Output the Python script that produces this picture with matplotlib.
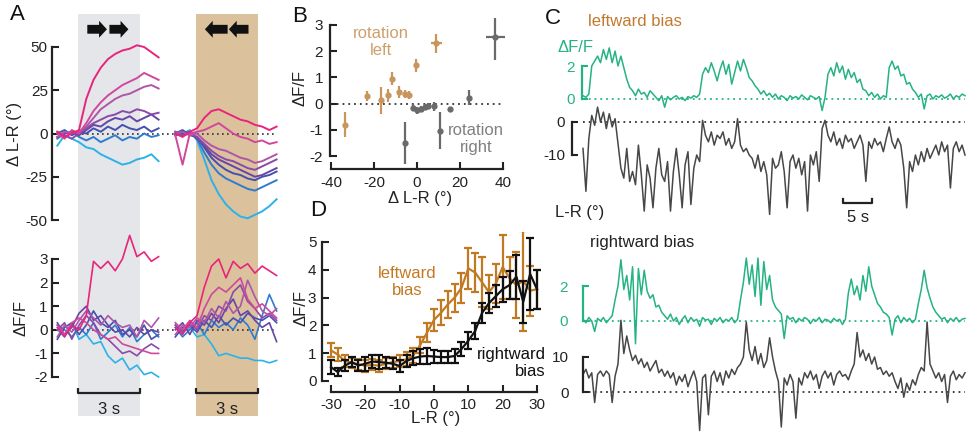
import numpy as np
import matplotlib
matplotlib.use("Agg")
import matplotlib.pyplot as plt
from matplotlib.patches import FancyArrow

plt.rcParams['font.family'] = ['Liberation Sans', 'DejaVu Sans']
plt.rcParams['axes.unicode_minus'] = False

# ---------------- DATA ----------------
# Panel A: time (s) of samples, 8 traces per condition (pink -> cyan)
tA = [-1.0, -0.65, -0.3, 0.05, 0.4, 0.75, 1.1, 1.45, 1.8, 2.15, 2.5, 2.85, 3.2, 3.55, 3.9]
a_colors = ['#e8247c', '#d0489c', '#b055a8', '#8a4aa8', '#6446a8', '#4550b0', '#2f7ccc', '#2cb2e8']
lr_right_rot = [
    [1, -2, 0, 2, 20, 31, 38, 43, 46, 48, 49, 51, 50, 47, 44],
    [0, -3, 2, 0, 6, 13, 18, 22, 25, 28, 30, 32, 35, 33, 31],
    [-2, 1, 0, 1, 4, 9, 14, 17, 20, 22, 23, 25, 27, 28, 26],
    [1, -1, -3, 0, 3, 6, 8, 10, 11, 13, 12, 14, 13, 11, 12],
    [-2, 0, 1, -1, 2, 5, 4, 7, 9, 8, 10, 7, 9, 11, 8],
    [0, 2, -1, 1, 0, 3, 1, 4, 2, 5, 3, 2, 4, 1, 3],
    [-3, 0, 1, -2, -4, -2, -5, -3, -1, -4, -2, -3, 0, -2, -1],
    [-7, -1, -3, -5, -8, -9, -12, -14, -16, -18, -17, -15, -14, -12, -16],
]
lr_left_rot = [
    [0, -2, 1, 3, 9, 13, 14, 12, 10, 8, 7, 5, 4, 2, 4],
    [-1, -18, 0, 1, 2, 4, 6, 3, 0, -2, -3, -5, -4, -6, -5],
    [0, 1, -1, 0, -4, -7, -9, -10, -12, -14, -15, -17, -16, -14, -12],
    [1, -1, 0, -2, -6, -10, -13, -15, -16, -18, -20, -21, -19, -17, -15],
    [-1, 0, 1, -3, -7, -12, -15, -17, -19, -21, -23, -25, -24, -22, -20],
    [0, 2, -1, -2, -8, -14, -18, -21, -23, -24, -26, -27, -25, -24, -22],
    [1, -1, 0, -3, -11, -18, -23, -26, -28, -30, -32, -33, -31, -29, -27],
    [-1, 0, 2, -4, -15, -27, -35, -41, -45, -48, -49, -47, -45, -42, -38],
]
df_right_rot = [
    [0.1, -0.3, 0.2, 0.0, 0.6, 2.9, 2.6, 2.9, 2.5, 3.0, 4.0, 3.1, 3.3, 2.9, 3.1],
    [0.2, -0.2, 0.3, 0.5, 0.3, 0.0, -0.2, -0.4, -0.3, -0.6, -0.7, -0.8, -0.9, -1.0, -1.0],
    [-0.3, 0.2, -0.1, 0.4, 0.8, 0.5, 0.2, 0.6, 0.3, 0.1, 0.2, -0.3, 0.4, 0.1, 0.5],
    [0.0, 0.3, -0.4, 0.2, 0.6, 0.3, -0.2, -0.4, -0.7, -1.0, -0.9, -1.1, -0.8, -0.6, -0.8],
    [0.3, -0.2, 0.1, 0.7, 1.0, 0.4, 0.6, 0.2, -0.1, 0.0, -0.3, 0.1, -0.2, 0.0, -0.1],
    [-0.4, 0.1, 0.3, -0.2, 0.2, 0.8, 0.3, 0.1, 0.4, -0.2, 0.0, -0.3, 0.2, -0.4, -0.2],
    [0.2, 0.0, -0.3, 0.1, -0.2, 0.3, -0.4, -0.1, 0.2, -0.3, 0.1, -0.5, -0.2, 0.0, -0.3],
    [0.0, -0.3, 0.3, -0.4, -0.2, -0.6, -0.5, -1.1, -1.4, -1.2, -1.7, -1.5, -1.9, -1.8, -2.0],
]
df_left_rot = [
    [0.1, -0.2, 0.3, 0.6, 1.8, 2.7, 3.0, 2.2, 2.9, 2.6, 2.8, 2.4, 2.7, 2.5, 2.3],
    [0.3, 0.0, 0.4, 0.1, 0.9, 1.5, 1.8, 1.6, 1.9, 2.2, 1.3, 0.9, 1.1, 0.8, 0.5],
    [-0.2, 0.2, 0.1, 0.5, 0.3, 0.9, 0.5, 1.2, 0.7, 1.0, 2.1, 1.4, 0.8, 0.6, 0.9],
    [0.2, -0.1, 0.3, 0.0, 0.6, 0.4, 1.0, 0.8, 1.6, 1.9, 1.2, 0.9, 0.5, 0.7, 0.4],
    [0.0, 0.3, -0.2, 0.4, 0.2, 0.7, 0.3, 0.9, 1.3, 0.6, 0.8, 0.4, 0.1, 0.3, -0.5],
    [-0.3, 0.1, 0.2, -0.1, 0.4, 0.1, 0.6, 0.2, 0.5, 0.3, 0.7, 0.5, 0.4, 0.6, 0.3],
    [0.1, -0.3, 0.0, 0.3, -0.2, 0.4, 0.1, 0.3, 0.0, 0.5, 0.2, -0.4, 0.6, 1.5, 0.8],
    [0.2, -0.1, 0.1, -0.3, -0.2, -0.6, -1.1, -1.0, -1.1, -1.2, -1.2, -1.3, -1.3, -1.4, -1.3],
]

# Panel B
b_left_x = [-33.3, -23.4, -16.7, -13.3, -11.6, -8.3, -5.5, -3.7, -0.4, 8.9]
b_left_y = [-0.8, 0.3, 0.12, 0.32, 0.95, 0.45, 0.36, 0.32, 1.47, 2.3]
b_left_yerr = [0.48, 0.2, 0.5, 0.25, 0.25, 0.22, 0.15, 0.15, 0.25, 0.35]
b_left_xerr = [0.8, 0.7, 0.8, 0.7, 0.6, 0.6, 0.6, 0.6, 0.7, 2.5]
b_right_x = [-5.5, -1.8, 0.2, 2.0, 3.7, 5.2, 7.9, 10.6, 15.2, 24.0, 36.5]
b_right_y = [-1.5, -0.15, -0.26, -0.2, -0.13, -0.1, -0.1, -1.03, -0.19, 0.23, 2.55]
b_right_yerr = [0.8, 0.12, 0.12, 0.1, 0.1, 0.12, 0.18, 0.7, 0.06, 0.28, 0.9]
b_right_xerr = [0.8, 0.5, 0.5, 0.5, 0.5, 0.5, 0.6, 0.7, 0.6, 0.9, 4.2]

# Panel D
d_x = [-30, -28, -26, -24, -22, -20, -18, -16, -14, -12, -10, -8, -6, -4, -2, 0,
       2, 4, 6, 8, 10, 12, 14, 16, 18, 20, 22, 24, 26, 28, 30]
d_left = [1.1, 0.95, 0.72, 0.66, 0.6, 0.55, 0.58, 0.55, 0.62, 0.68, 0.72, 0.78, 0.92, 1.3, 1.75, 2.2,
          2.45, 2.75, 3.0, 3.35, 4.05, 3.9, 3.55, 3.2, 3.5, 4.1, 3.7, 3.45, 3.6, 3.25, 3.3]
d_left_err = [0.25, 0.22, 0.2, 0.18, 0.2, 0.22, 0.2, 0.22, 0.2, 0.2, 0.22, 0.25, 0.28, 0.3, 0.35, 0.4,
              0.45, 0.5, 0.5, 0.55, 0.75, 0.7, 0.9, 0.6, 0.7, 1.15, 0.75, 1.2, 1.8, 0.9, 0.7]
d_right = [0.5, 0.32, 0.55, 0.68, 0.56, 0.62, 0.7, 0.68, 0.66, 0.62, 0.54, 0.72, 0.82, 0.88, 0.9, 0.88,
           0.86, 0.86, 0.9, 1.15, 1.45, 1.8, 2.45, 2.8, 3.05, 3.3, 3.45, 3.75, 2.85, 3.85, 3.3]
d_right_err = [0.25, 0.15, 0.2, 0.18, 0.2, 0.25, 0.25, 0.25, 0.2, 0.2, 0.22, 0.22, 0.25, 0.28, 0.3, 0.25,
               0.22, 0.22, 0.25, 0.25, 0.3, 0.3, 0.35, 0.35, 0.4, 0.45, 0.5, 0.8, 0.75, 1.3, 0.7]

# Panel C: sample period 0.5 s
c_dt = 0.5
c_left_df = [0.2, 0.1, 0.3, 2.0,
             2.3, 2.6, 2.2, 3.0, 2.4, 3.1, 2.2, 2.9, 2.0, 2.6,
             1.9, 1.2, 0.7,
             0.5, 0.2, 0.6, 0.3, 0.4, 0.1, 0.5, 0.3,
             0.1, -0.1, 0.2, -0.5, 0.15, -0.05, 0.1, 0.2, 0.0, 0.1, -0.1, 0.15, 0.05, 0.2, 0.1, 0.3,
             1.5, 1.9, 1.6, 2.2, 1.7, 1.1, 1.8, 2.3, 1.5, 2.1, 0.9, 1.6, 2.3, 1.7, 2.4, 1.9, 1.3, 1.1, 0.8,
             0.6, 0.3, 0.5, 0.2, 0.35, 0.1, 0.3, 0.0, 0.2, 0.1, -0.1, 0.2, 0.05, 0.15, 0.0, 0.25, 0.1, -0.05,
             0.2, 0.1, 0.0, 0.15, -0.7, 0.1,
             1.5, 1.9, 1.4, 2.2, 1.6, 2.0, 1.2, 1.8, 1.3, 1.6, 1.0, 1.2, 0.6,
             0.5, 0.2, 0.4, 0.1, 0.3, 0.0, 0.2, 0.1,
             1.9, 2.3, 1.8, 2.0, 1.4, 1.5,
             0.9, 1.0, 0.6,
             0.4, 0.1, 0.3, -0.6, 0.2, 0.3, 0.0, 0.2, 0.1, 0.25, 0.05, 0.15, 0.3, 0.0, 0.2, 0.1, 0.3, 0.2]
c_left_lr = [-8, -21, -5,
             2, -1, 4.5, 0, 3, -2, 2.5, -1.5, 1,
             -6.5,
             -14, -17, -8, -18, -15, -19, -7, -16, -27, -13, -17, -26, -14, -8, -16, -18, -12, -27,
             -15, -8, -16, -26, -13, -9, -25, -14, -10, -12,
             0.5,
             -4, -6, -3, -7, -4, -5, -3, -7,
             -5, -8, -6, 1, -7, -9, -8, -10,
             -11, -14, -10, -15, -12, -16, -28, -11, -14, -13, -9, -15, -26, -12, -10, -14, -11, -16,
             -12, -27, -10, -13, -9, -18,
             -2, 0.5,
             -4, -6, -3, -7, -5, -8, -4, -6, -5, -8, -6, -4, -7, -18, -6, -8, -5, -7, -6, -9, -5, -1.5,
             -6, -8, -5, -7,
             -14, -26,
             -12, -15, -10, -13, -9, -12, -8, -11, -9, -7, -10, -6, -9, -7, -20, -8, -6, -9, -7, -10]
c_right_df = [0.1, -0.1, 0.2, 0.0, -0.6, 0.15, 0.0, 0.2, -0.1, 0.1, 0.3,
              1.2, 2.0,
              3.5, 1.8, 2.6, 1.2, 3.1, -1.3, 3.0, 1.5, 2.9, 1.7,
              1.3, 1.5, 0.8, 0.9, 0.5,
              0.3, 0.1, 0.4, 0.0, 0.2, -0.2, 0.1, 0.3, -0.1, 0.2, 0.0, 0.1, -0.3, 0.2, 0.05, 0.1, -0.2,
              0.15, 0.0, 0.2, -0.1, 0.1, 0.0, 0.2, -0.1, 0.1,
              1.2, 2.2,
              3.6, 2.1, 3.2, 1.4, 3.6, 0.9, 3.4, 1.8, 2.6,
              1.2, 0.8, 0.6, 0.4, -1.0,
              0.3, 0.1, 0.2, -0.1, 0.15, 0.0, 0.2, 0.1, -0.15, 0.1, 0.0, 0.2, -0.1, 0.1, 0.05, -0.1,
              0.15, 0.0, 0.1, -0.2, 0.1,
              1.6, 2.4, 1.5, 2.0, 1.2, 2.6, 1.7, 3.1, 2.0, 1.5,
              1.0, 0.8, 0.5, 0.4, 0.2, -0.8,
              0.1, 0.3, -0.1, 0.2, 0.0, 0.15, -0.1, 0.1,
              1.0, 1.8, 2.9, 1.9, 1.3,
              0.8, 0.5, 0.3, 0.1, 0.2, -0.1, 0.15, 0.0, 0.2, -0.05, 0.1, 0.15]
c_right_lr = [5, 6.5, 4, 5.5, -3, 5, 6, 4.5, 6, 5, -3, 4.5,
              8, 20.5, 11, 16,
              12, 9, 10.5, 8, 9.5, 7, 8.5, 6, 7.5, 9, 5.5, 6.5, 4.5, 6,
              4, 5.5, 2, 4.5, 3, 5, 1.5, 4, 6, 3, -11,
              4, 5, -6.5, 4.5, 6, 3, 5.5, 2, 6, 4, 6.5, 5, 7,
              8, 10, 20, 12, 9, 13, 8, 11, 7, 9, 15.5, 10,
              6, 3,
              -10, 4, 2, 5, 3, -7.5, 4, 2,
              5.5, 4, 6, 3.5, 5, 1, 4.5, 6, 4, 5.5, 2, 5, 6, 4.5, 5, 3.5, 6,
              8, 17, 10, 12, 9, 11, 8, 10,
              6.5, 7, 5, 6, 4.5, 5.5,
              3, 1, 4, -1.5, 2.5, 0.5, 3.5, 2,
              5, 7, 6, 20, 8, 6,
              4, 5.5, 3, 5, -3, 4.5, 6, 3.5, 5, 4, 5.5]

# ---------------- LAYOUT HELPERS ----------------
W, H = 966, 437
fig = plt.figure(figsize=(W / 100, H / 100), dpi=100)


def lin(p, a, b):
    return a[1] + (p - a[0]) * (b[1] - a[1]) / (b[0] - a[0])


def make(x0, y0, x1, y1, xm, ym):
    ax = fig.add_axes([x0 / W, 1 - y1 / H, (x1 - x0) / W, (y1 - y0) / H])
    ax.set_xlim(lin(x0, *xm), lin(x1, *xm))
    ax.set_ylim(lin(y1, *ym), lin(y0, *ym))
    ax.patch.set_alpha(0)
    for s in ax.spines.values():
        s.set_visible(False)
    ax.set_xticks([])
    ax.set_yticks([])
    return ax


def ftext(x, y, s, **kw):
    return fig.text(x / W, 1 - y / H, s, **kw)


SP = '#222222'
TICK_FS = 11


def left_axis(ax, lo, hi, ticks, labels=None, pad=3, color=SP, lcolor='#222222', outward=0, length=5):
    ax.spines['left'].set_visible(True)
    ax.spines['left'].set_bounds(lo, hi)
    ax.spines['left'].set_linewidth(1.6)
    ax.spines['left'].set_color(color)
    ax.spines['left'].set_position(('outward', outward))
    ax.set_yticks(ticks)
    if labels is not None:
        ax.set_yticklabels(labels)
    ax.tick_params(axis='y', direction='in', length=length, width=1.5, color=color,
                   labelsize=TICK_FS, pad=pad, labelcolor=lcolor)


def bottom_axis(ax, lo, hi, ticks, pad=4):
    ax.spines['bottom'].set_visible(True)
    ax.spines['bottom'].set_bounds(lo, hi)
    ax.spines['bottom'].set_linewidth(1.6)
    ax.spines['bottom'].set_color(SP)
    ax.set_xticks(ticks)
    ax.set_xticklabels([str(t) for t in ticks])
    ax.tick_params(axis='x', direction='in', length=5, width=1.5, color=SP,
                   labelsize=TICK_FS, pad=pad, labelcolor='#222222')


# ---------------- PANEL A ----------------
xmA = ((78, 0.0), (140, 3.0))
shift = 5.71
bg = make(52, 14, 285, 416, xmA, ((416, 0.0), (14, 1.0)))
bg.axvspan(0, 3, color='#e4e6e9', lw=0, zorder=0)
bg.axvspan(shift, shift + 3, color='#dbc19c', lw=0, zorder=0)
for x, dx in [(0.45, 0.95), (1.52, 0.92), (7.24, -1.1), (8.25, -0.95)]:
    bg.add_patch(FancyArrow(x, 0.962, dx, 0, width=0.022, head_width=0.042, head_length=0.38,
                            length_includes_head=True, color='#111111', lw=0))

tA_arr = np.array(tA)
axA1 = make(52, 40, 285, 226, xmA, ((47, 50.0), (220, -50.0)))
axA1.plot([tA[0], tA[-1] + shift], [0, 0], ls=(0, (1, 2)), color='#333333', lw=1.2, zorder=1)
for vals, c in list(zip(lr_right_rot, a_colors))[::-1]:
    axA1.plot(tA_arr, vals, color=c, lw=1.4, clip_on=False, zorder=2)
for vals, c in list(zip(lr_left_rot, a_colors))[::-1]:
    axA1.plot(tA_arr + shift, vals, color=c, lw=1.4, clip_on=False, zorder=2)
left_axis(axA1, -50, 50, [-50, -25, 0, 25, 50])
ftext(15, 134, 'Δ L-R (°)', rotation=90, ha='center', va='center', fontsize=12, color='#222222')

axA2 = make(52, 225, 285, 386, xmA, ((259, 3.0), (377, -2.0)))
axA2.plot([tA[0], tA[-1] + shift], [0, 0], ls=(0, (1, 2)), color='#333333', lw=1.2, zorder=1)
for vals, c in list(zip(df_right_rot, a_colors))[::-1]:
    axA2.plot(tA_arr, vals, color=c, lw=1.2, clip_on=False, zorder=2)
for vals, c in list(zip(df_left_rot, a_colors))[::-1]:
    axA2.plot(tA_arr + shift, vals, color=c, lw=1.2, clip_on=False, zorder=2)
left_axis(axA2, -2, 3, [-2, -1, 0, 1, 2, 3])
ftext(21, 318, 'ΔF/F', rotation=90, ha='center', va='center', fontsize=12, color='#222222')
# 3 s scale bars
ybar = lin(393, (259, 3.0), (377, -2.0))
ytxt = lin(409, (259, 3.0), (377, -2.0))
for x0 in (0, shift):
    axA2.plot([x0, x0, x0 + 3, x0 + 3], [ybar + 0.2, ybar, ybar, ybar + 0.2], color='#222222',
              lw=1.6, clip_on=False, solid_capstyle='butt')
    axA2.text(x0 + 1.5, ytxt, '3 s', ha='center', va='center', fontsize=12, color='#222222')

# ---------------- PANEL B ----------------
axB = make(330, 18, 506, 169, ((331, -40.0), (503, 40.0)), ((25, 3.0), (156, -2.0)))
axB.plot([-40, 40], [0, 0], ls=(0, (1, 2.2)), color='#333333', lw=1.3, zorder=1)
c_left_b = '#c8955c'
c_right_b = '#6a6a6a'
axB.errorbar(b_left_x, b_left_y, yerr=b_left_yerr, xerr=b_left_xerr, fmt='o', ms=3.5,
             color=c_left_b, ecolor=c_left_b, elinewidth=1.6, capsize=0, zorder=3)
axB.errorbar(b_right_x, b_right_y, yerr=b_right_yerr, xerr=b_right_xerr, fmt='o', ms=3.5,
             color=c_right_b, ecolor=c_right_b, elinewidth=1.6, capsize=0, zorder=3)
left_axis(axB, -2, 3, [-2, -1, 0, 1, 2, 3], pad=5)
bottom_axis(axB, -40, 40, [-40, -20, 0, 20, 40], pad=5)
ftext(300, 88, 'ΔF/F', rotation=90, ha='center', va='center', fontsize=12, color='#222222')
ftext(420, 199, 'Δ L-R (°)', ha='center', va='center', fontsize=12, color='#222222')
ftext(381, 42, 'rotation\nleft', ha='center', va='center', fontsize=12, color='#cda06c',
      linespacing=1.1)
ftext(476, 139, 'rotation\nright', ha='center', va='center', fontsize=12, color='#808080',
      linespacing=1.1)

# ---------------- PANEL D ----------------
axD = make(322, 232, 545, 392, ((331, -30.0), (537, 30.0)), ((242, 5.0), (381, 0.0)))
c_left_d = '#c27a22'
axD.errorbar(d_x, d_left, yerr=d_left_err, color=c_left_d, ecolor=c_left_d, lw=1.6,
             elinewidth=1.6, capsize=3, capthick=1.6, zorder=2)
axD.errorbar(d_x, d_right, yerr=d_right_err, color='#111111', ecolor='#111111', lw=1.6,
             elinewidth=1.6, capsize=3, capthick=1.6, zorder=3)
left_axis(axD, 0, 5, [0, 1, 2, 3, 4, 5], pad=4)
bottom_axis(axD, -30, 30, [-30, -20, -10, 0, 10, 20, 30], pad=4)
ftext(301, 308, 'ΔF/F', rotation=90, ha='center', va='center', fontsize=12, color='#222222')
ftext(436, 419, 'L-R (°)', ha='center', va='center', fontsize=12, color='#222222')
ftext(407, 282, 'leftward\nbias', ha='center', va='center', fontsize=12, color=c_left_d,
      linespacing=1.15)
ftext(546, 363, 'rightward\nbias', ha='right', va='center', fontsize=12, color='#111111',
      linespacing=1.15, multialignment='right')

# ---------------- PANEL C ----------------
xmC = ((583, 0.0), (965, 65.5))
green = '#25b383'
dark = '#474747'
tC1 = np.arange(len(c_left_df)) * c_dt
tC1b = np.arange(len(c_left_lr)) * c_dt
tC2 = np.arange(len(c_right_df)) * c_dt
tC2b = np.arange(len(c_right_lr)) * c_dt

axC1 = make(583, 38, 966, 118, xmC, ((66, 2.0), (99, 0.0)))
axC1.plot([0, 65.5], [0, 0], ls=(0, (1, 2.2)), color=green, lw=1.3)
axC1.plot(tC1, c_left_df, color=green, lw=1.1, clip_on=False)
left_axis(axC1, 0, 2, [0, 2], pad=5, color=green, lcolor=green, outward=1, length=4)
axC1.text(lin(557, *xmC), lin(47, (66, 2.0), (99, 0.0)), 'ΔF/F', ha='left', va='center',
          fontsize=12, color=green)

ymC1b = ((122, 0.0), (155, -10.0))
axC1b = make(583, 100, 966, 226, xmC, ymC1b)
axC1b.plot([0, 65.5], [0, 0], ls=(0, (1, 2.2)), color='#333333', lw=1.3)
axC1b.plot(tC1b, c_left_lr, color=dark, lw=1.1, clip_on=False)
left_axis(axC1b, -10, 0, [-10, 0], pad=5, outward=8, length=4)
# 5 s scale bar
sb_x0 = lin(843, *xmC)
sb_y = lin(203, *ymC1b)
axC1b.plot([sb_x0, sb_x0, sb_x0 + 5, sb_x0 + 5], [sb_y + 1.2, sb_y, sb_y, sb_y + 1.2],
           color='#222222', lw=1.6, clip_on=False, zorder=5)
axC1b.text(sb_x0 + 2.5, lin(218, *ymC1b), '5 s', ha='center', va='center', fontsize=12,
           color='#222222')
axC1b.text(lin(555, *xmC), lin(212, *ymC1b), 'L-R (°)', ha='left', va='center', fontsize=12,
           color='#222222')

axC2 = make(583, 250, 966, 345, xmC, ((286, 2.0), (321, 0.0)))
axC2.plot([0, 65.5], [0, 0], ls=(0, (1, 2.2)), color=green, lw=1.3)
axC2.plot(tC2, c_right_df, color=green, lw=1.1, clip_on=False)
left_axis(axC2, 0, 2, [0, 2], pad=11, color=green, lcolor=green, outward=0, length=4)

axC2b = make(583, 300, 966, 437, xmC, ((357, 10.0), (392, 0.0)))
axC2b.plot([0, 65.5], [0, 0], ls=(0, (1, 2.2)), color='#333333', lw=1.3)
axC2b.plot(tC2b, c_right_lr, color=dark, lw=1.1, clip_on=False)
left_axis(axC2b, 0, 10, [0, 10], pad=10, outward=0, length=4)

ftext(588, 21, 'leftward bias', ha='left', va='center', fontsize=12, color='#c27a30')
ftext(590, 243, 'rightward bias', ha='left', va='center', fontsize=12, color='#222222')

# ---------------- PANEL LETTERS ----------------
for x, y, s in [(17, 14, 'A'), (300, 17, 'B'), (553, 18, 'C'), (318, 211, 'D')]:
    ftext(x, y, s, ha='center', va='center', fontsize=16, color='#111111')

fig.savefig('out.png', dpi=100)
